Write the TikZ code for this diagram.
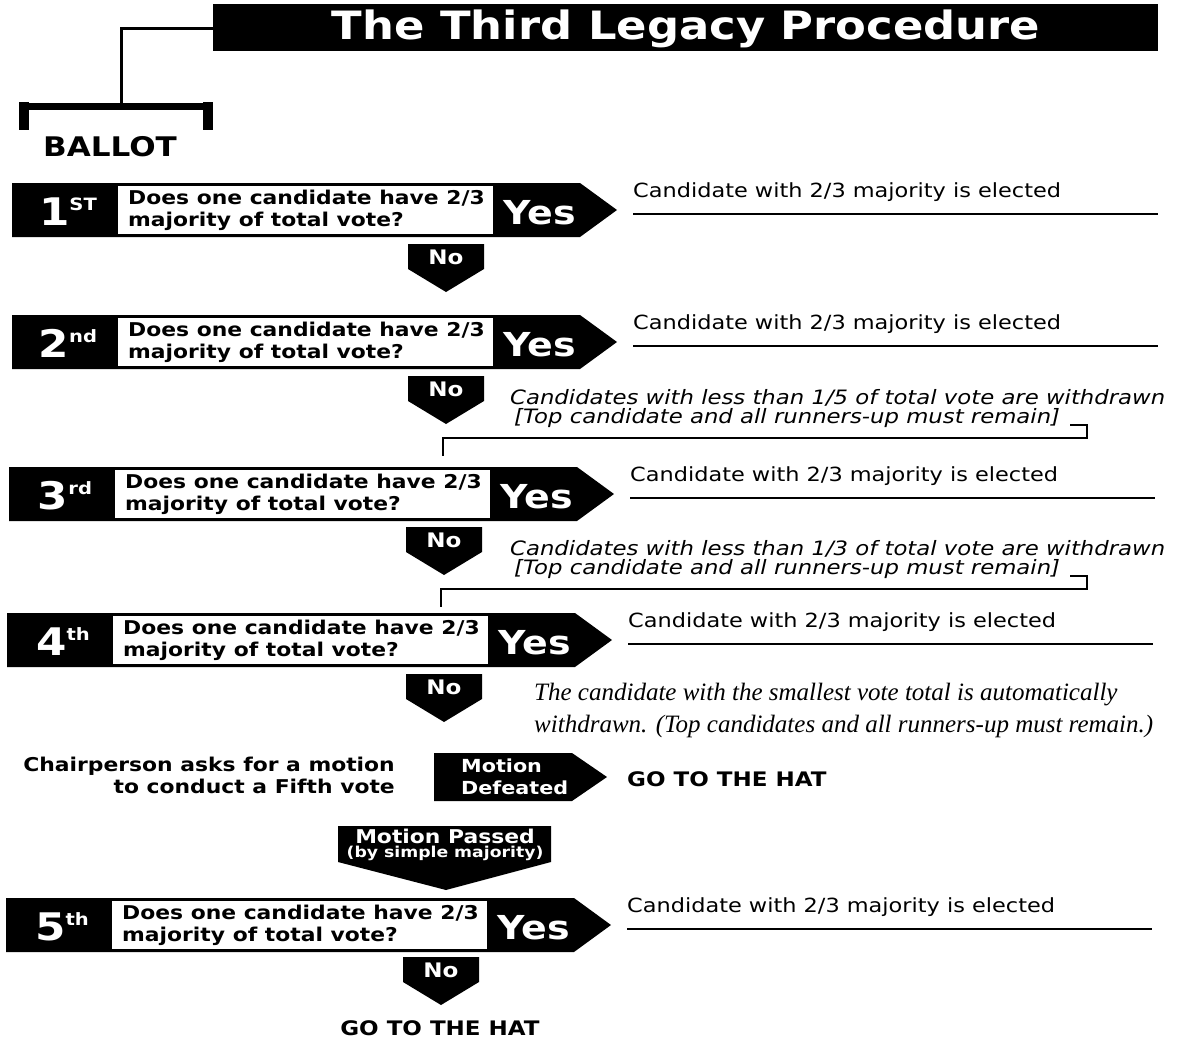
\documentclass[tikz,border=0pt]{standalone}
\usepackage{fontspec}
\setmainfont{DejaVu Sans}[FakeStretch=1.15]
\newfontfamily\timesfont{Liberation Serif}
\usetikzlibrary{positioning}
\newcommand\fs[2]{\fontsize{#1}{#2}\selectfont}

\begin{document}
\begin{tikzpicture}[x=1pt,y=-1pt,
	white text/.style={text=white,inner sep=0pt},
	question/.style={align=left,anchor=west,inner sep=0pt,font=\bfseries\fs{19}{22}},
	elected/.style={anchor=west,inner sep=0pt,font=\fs{19.5}{22}},
	withdraw/.style={anchor=west,inner sep=0pt,font=\itshape\fs{19.8}{20}},
	bigcaps/.style={inner sep=0pt,font=\bfseries\fs{20}{22}},
	rule/.style={line width=1.6pt},
	hook/.style={line width=2.2pt}]
	\useasboundingbox[fill=white] (0,0) rectangle (1196,1044);
	% title and ballot bracket
	\fill[black] (213,4) rectangle (1158,51);
	\node[white text,font=\bfseries\fs{39}{39}] (title) at (686,29) {The Third Legacy Procedure};
	\draw[line width=3pt] (213,28) -| (121,106);
	\fill[black] (19,103) rectangle (213,110);
	\fill[black] (19,102) rectangle (29,130);
	\fill[black] (203,102) rectangle (213,130);
	\node[inner sep=0pt,font=\bfseries\fs{27}{27}] (ballot) at (110,147) {BALLOT};
	% the five ballots
	\foreach \n/\yc/\dx/\sfx/\nol/\nt in {1/210/0/ST/408/244, 2/342/0/nd/408/376, 3/494/-3/rd/406/527, 4/640/-5/th/406/674, 5/925/-6/th/403/957}{
		\fill[black] ({12+\dx},{\yc-27}) -- ({580+\dx},{\yc-27}) -- ({617+\dx},\yc) -- ({580+\dx},{\yc+27}) -- ({12+\dx},{\yc+27}) -- cycle;
		\fill[white] ({118+\dx},{\yc-24}) rectangle ({493+\dx},{\yc+24});
		\node[white text,anchor=base,font=\bfseries] (ord\n) at ({68+\dx},{\yc+15}) {\fs{38}{38}\n\raisebox{15pt}{\fs{17}{17}\sfx}};
		\node[question] (q\n) at ({128+\dx},\yc) {Does one candidate have 2/3\\majority of total vote?};
		\node[white text,font=\bfseries\fs{33}{33}] (yes\n) at ({540+\dx},{\yc+3}) {Yes};
		\node[elected] (el\n) at ({633+\dx},{\yc-18}) {Candidate with 2/3 majority is elected};
		\coordinate (ra\n) at ({633+\dx},{\yc+4});
		\coordinate (rb\n) at ({1158+\dx},{\yc+4});
		\draw[rule] (ra\n) -- (rb\n);
		\fill[black] (\nol,\nt) -- ({\nol+76},\nt) -- ({\nol+76},{\nt+25}) -- ({\nol+38},{\nt+48}) -- (\nol,{\nt+25}) -- cycle;
		\node[white text,font=\bfseries\fs{20}{20}] (no\n) at ({\nol+38},{\nt+13}) {No};
	}
	% withdrawals after the 2nd and 3rd ballots
	\node[withdraw] (wd2a) at (510,398) {Candidates with less than 1/5 of total vote are withdrawn};
	\node[withdraw] (wd2b) at (514,418) {[Top candidate and all runners-up must remain]};
	\coordinate (hk2) at (1070,425);
	\coordinate (st2) at (443,456);
	\draw[hook] (hk2) -- (1087,425) |- (443,438) -- (st2);
	\node[withdraw] (wd3a) at (510,549) {Candidates with less than 1/3 of total vote are withdrawn};
	\node[withdraw] (wd3b) at (514,569) {[Top candidate and all runners-up must remain]};
	\coordinate (hk3) at (1070,576);
	\coordinate (st3) at (441,607);
	\draw[hook] (hk3) -- (1087,576) |- (441,589) -- (st3);
	% after the 4th ballot
	\node[anchor=west,align=left,inner sep=0pt,font=\timesfont\itshape\fs{25}{32}] (auto) at (534,710) {The candidate with the smallest vote total is automatically\\withdrawn. (Top candidates and all runners-up must remain.)};
	\node[anchor=east,align=right,inner sep=0pt,font=\bfseries\fs{19}{22}] (chair) at (395,775) {Chairperson asks for a motion\\to conduct a Fifth vote};
	\fill[black] (434,753) -- (572,753) -- (607,777) -- (572,801) -- (434,801) -- cycle;
	\node[white text,anchor=west,align=left,font=\bfseries\fs{18}{22}] (defeated) at (461,777) {Motion\\Defeated};
	\node[bigcaps,anchor=west] (hat1) at (627,779) {GO TO THE HAT};
	\fill[black] (338,826) -- (551,826) -- (551,862) -- (446,890) -- (338,862) -- cycle;
	\node[white text,font=\bfseries\fs{19}{19}] (passed) at (445,836) {Motion Passed};
	\node[white text,font=\bfseries\fs{15}{15}] (simple) at (445,853) {(by simple majority)};
	\node[bigcaps] (hat2) at (440,1028) {GO TO THE HAT};
\end{tikzpicture}
\end{document}
